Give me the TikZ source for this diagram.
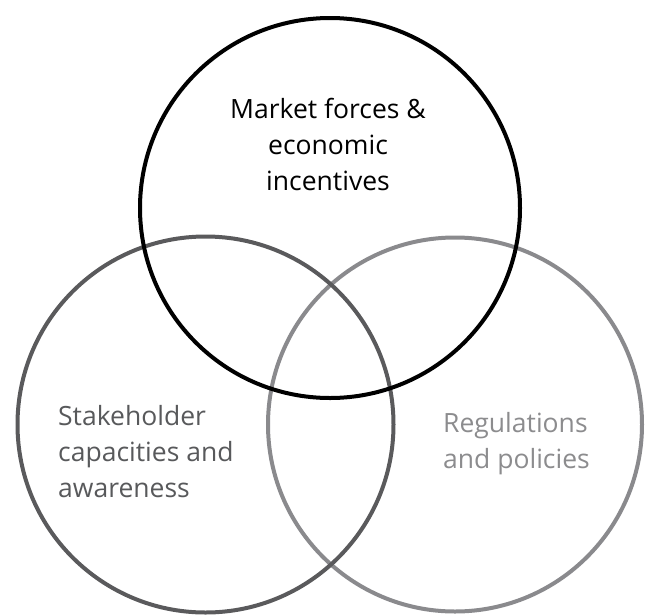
\documentclass[tikz,border=0pt]{standalone}
\usepackage{fontspec}
\setmainfont{Open Sans}
\definecolor{darkring}{HTML}{5A5A5C}
\definecolor{lightring}{HTML}{8A8A8D}
\definecolor{darktext}{HTML}{58595B}
\definecolor{lighttext}{HTML}{8C8C8E}
\tikzset{
  ring/.style={circle, draw, line width=4pt, inner sep=0pt, minimum size=#1},
  label/.style={inner sep=0pt, font=\fontsize{26.5}{36}\selectfont},
}
\begin{document}
\begin{tikzpicture}[x=1pt,y=-1pt]
\useasboundingbox (0,0) rectangle (645,614);
\node[ring=374pt, draw=lightring] (reg) at (455,424.5) {};
\node[ring=376pt, draw=darkring] (stake) at (205.5,424.5) {};
\node[ring=380pt, draw=black] (market) at (330,208) {};
\node[label, align=center, anchor=base] (mt) at (328,190) {Market forces \&\\economic\\incentives};
\node[label, align=left, anchor=base west, text=darktext] (st) at (58,497) {Stakeholder\\capacities and\\awareness};
\node[label, align=left, anchor=base west, text=lighttext] (rt) at (443,468) {Regulations\\and policies};
\end{tikzpicture}
\end{document}
